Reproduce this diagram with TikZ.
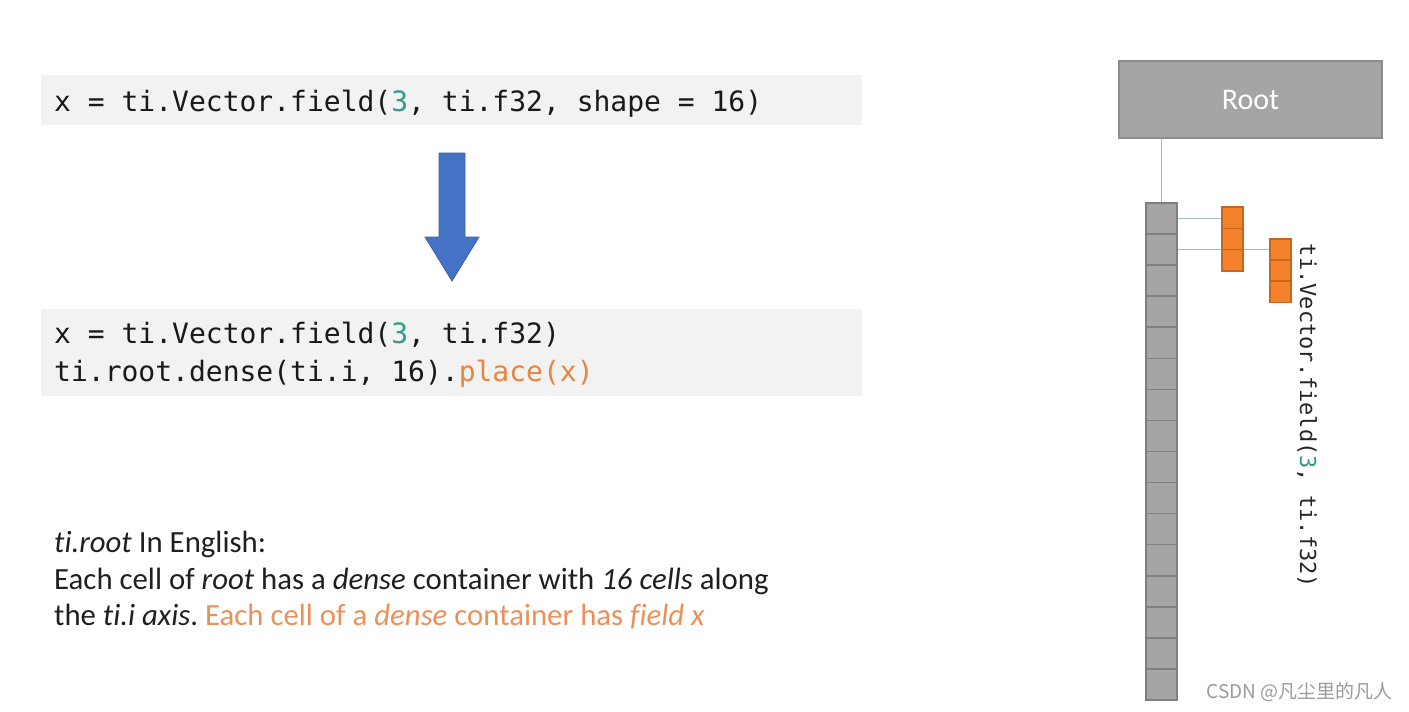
\documentclass[tikz,border=0pt]{standalone}
\usepackage{fontspec}
\setmainfont{Carlito}[Ligatures=NoCommon]
\newfontfamily\codefont{DejaVu Sans Mono}
\newfontfamily\cjkfont{Noto Sans CJK SC}
\frenchspacing
\definecolor{codebg}{HTML}{F2F2F2}
\definecolor{numgreen}{HTML}{2E9C86}
\definecolor{codeorange}{HTML}{E8843F}
\definecolor{textorange}{HTML}{EA9159}
\definecolor{arrowblue}{HTML}{4472C4}
\definecolor{arrowedge}{HTML}{3A62AA}
\definecolor{cellgray}{HTML}{A5A5A5}
\definecolor{celledge}{HTML}{7F7F7F}
\definecolor{orangefill}{HTML}{F3822A}
\definecolor{orangeedge}{HTML}{C9651E}
\definecolor{connblue}{HTML}{A8B6CA}
\definecolor{marktext}{HTML}{9A9A9A}
\tikzset{
  codebox/.style={fill=codebg, draw=none, inner sep=0pt, minimum width=821pt},
  codetext/.style={inner sep=0pt, anchor=base west, font=\codefont\fontsize{28}{34}\selectfont, text=black!90},
  paratext/.style={inner sep=0pt, anchor=base west, font=\fontsize{30.8}{36}\selectfont, text=black!88},
  gcell/.style={fill=cellgray, draw=celledge, line width=1.6pt, minimum width=31pt, minimum height=31.06pt, inner sep=0pt},
  ocell/.style={fill=orangefill, draw=orangeedge, line width=1.3pt, minimum width=21pt, minimum height=21.3pt, inner sep=0pt},
  conn/.style={draw=connblue, line width=1.4pt},
}
\begin{document}
\begin{tikzpicture}[x=1pt,y=-1pt]
\useasboundingbox (0,0) rectangle (1409,712);
% code boxes
\node[codebox, minimum height=50pt] (code1) at (451.5,100) {};
\node[codebox, minimum height=87pt] (code2) at (451.5,352.5) {};
\node[codetext] (l1) at (54,111) {x = ti.Vector.field(\textcolor{numgreen}{3}, ti.f32, shape = 16)};
\node[codetext] (l2) at (54,343) {x = ti.Vector.field(\textcolor{numgreen}{3}, ti.f32)};
\node[codetext] (l3) at (54,381) {ti.root.dense(ti.i, 16).\textcolor{codeorange}{place(x)}};
% big arrow
\fill[arrowblue, draw=arrowedge, line width=0.8pt] (439,153) -- (465,153) -- (465,237) -- (479,237) -- (452,281) -- (425,237) -- (439,237) -- cycle;
% paragraph
\node[paratext] (p1) at (54,552) {\textit{ti.root} In English:};
\node[paratext] (p2) at (54,589) {Each cell of \textit{root} has a \textit{dense} container with \textit{16 cells} along};
\node[paratext] (p3) at (54,625) {the \textit{ti.i axis}. \textcolor{textorange}{Each cell of a \textit{dense} container has \textit{field x}}};
% root box
\node[fill=cellgray, draw=celledge!90, line width=1.6pt, minimum width=263pt, minimum height=77pt, inner sep=0pt,
      font=\fontsize{30}{34}\selectfont, text=white] (root) at (1250.5,99.5) {Root};
% column cells
\foreach \i in {1,...,16} {
  \node[gcell] (c\i) at (1161.5,{203+31.0625*(\i-0.5)}) {};
}
% orange cells
\foreach \i in {1,2,3} {
  \node[ocell] (a\i) at (1232.5,{207+21.33*(\i-0.5)}) {};
  \node[ocell] (b\i) at (1280.5,{239+21.1*(\i-0.5)}) {};
}
% connectors
\draw[conn] (c1.north |- root.south) -- (c1.north);
\draw[conn] (c1.east) -- (c1.east -| a1.west);
\draw[conn] (c2.east) -- (c2.east -| b1.west);
% redraw orange box a on top of line to b
\foreach \i in {1,2,3} {
  \node[ocell] (a\i r) at (a\i) {};
}
% rotated label
\node[rotate=-90, inner sep=0pt, font=\codefont\fontsize{22}{26}\selectfont, text=black!85] (lab) at (1307,416)
  {ti.Vector.field(\textcolor{numgreen}{3}, ti.f32)};
% watermark
\node[inner sep=0pt, anchor=east, font=\cjkfont\fontsize{19}{22}\selectfont, text=marktext] (wm) at (1393,692) {CSDN @凡尘里的凡人};
\end{tikzpicture}
\end{document}
